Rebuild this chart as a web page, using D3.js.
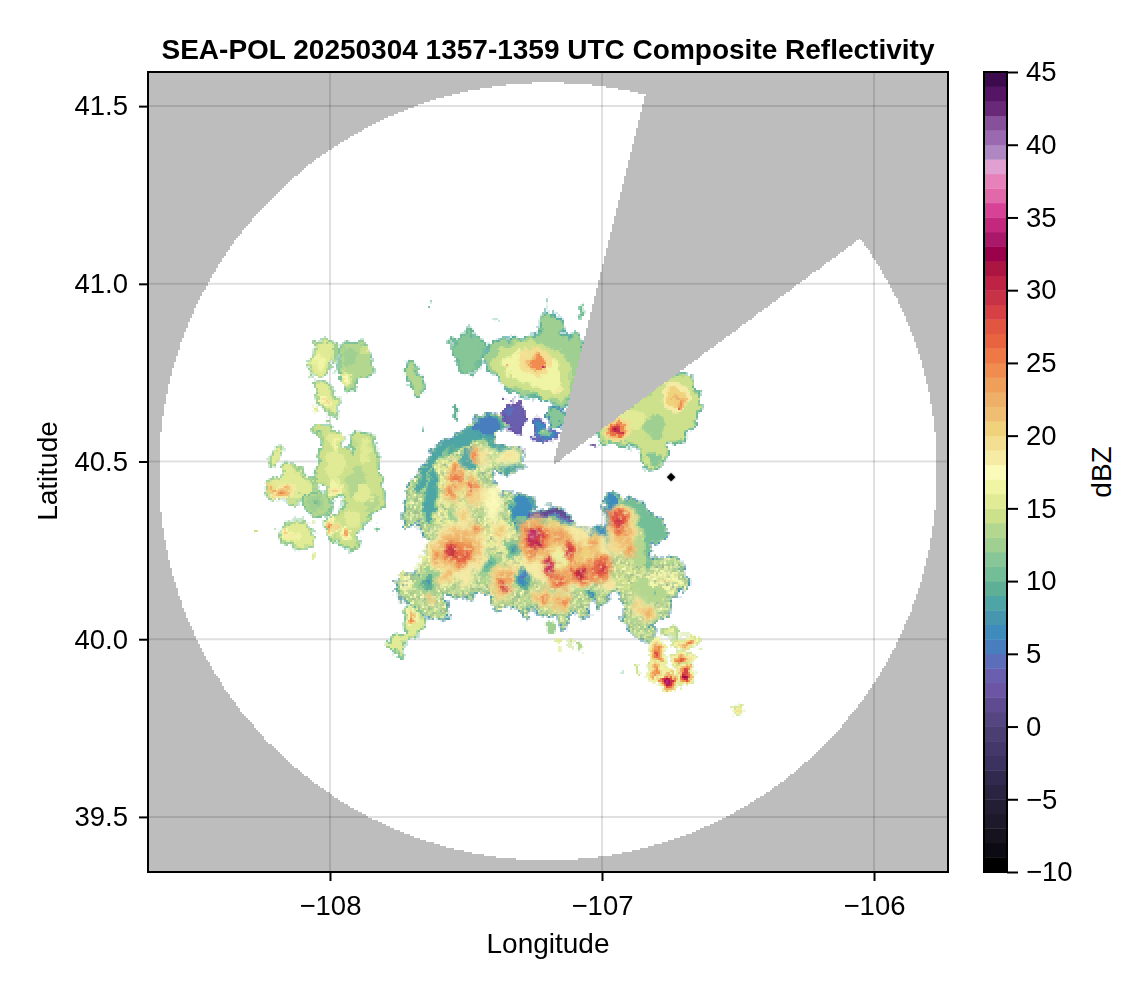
<!DOCTYPE html>
<html><head><meta charset="utf-8">
<script src="https://cdn.jsdelivr.net/npm/d3@7/dist/d3.min.js"></script>
<style>
html,body{margin:0;padding:0;background:#fff}
text{font-family:"Liberation Sans",Arial,sans-serif;fill:#000}
</style></head><body>
<svg width="0" height="0" style="position:absolute">
<defs>
<filter id="rough" x="0" y="0" width="100%" height="100%" color-interpolation-filters="sRGB">
<feTurbulence type="fractalNoise" baseFrequency="0.17" numOctaves="3" seed="4" result="n"/>
<feDisplacementMap in="SourceGraphic" in2="n" scale="7" xChannelSelector="R" yChannelSelector="G"/>
</filter>
<filter id="speckle" x="0" y="0" width="100%" height="100%" color-interpolation-filters="sRGB">
<feTurbulence type="fractalNoise" baseFrequency="0.17" numOctaves="3" seed="4" result="n"/>
<feDisplacementMap in="SourceGraphic" in2="n" scale="7" xChannelSelector="R" yChannelSelector="G" result="d"/>
<feTurbulence type="fractalNoise" baseFrequency="0.6" numOctaves="2" seed="9"/>
<feColorMatrix type="matrix" values="0 0 0 0 .98  0 0 0 0 .98  0 0 0 0 .72  3.2 0 0 0 -1.5" result="s"/>
<feComposite in="s" in2="d" operator="in" result="sp"/>
<feTurbulence type="fractalNoise" baseFrequency="0.45" numOctaves="2" seed="21"/>
<feColorMatrix type="matrix" values="0 0 0 0 .60  0 0 0 0 .72  0 0 0 0 .56  3 0 0 0 -1.3" result="g"/>
<feComposite in="g" in2="d" operator="in" result="gp"/>
<feMerge><feMergeNode in="d"/><feMergeNode in="gp"/><feMergeNode in="sp"/></feMerge>
</filter>
<filter id="mottle" x="0" y="0" width="100%" height="100%" color-interpolation-filters="sRGB">
<feGaussianBlur in="SourceGraphic" stdDeviation="1.1" result="b"/>
<feTurbulence type="fractalNoise" baseFrequency="0.17" numOctaves="3" seed="4" result="n"/>
<feDisplacementMap in="b" in2="n" scale="7" xChannelSelector="R" yChannelSelector="G" result="d"/>
<feTurbulence type="fractalNoise" baseFrequency="0.5" numOctaves="2" seed="13"/>
<feColorMatrix type="matrix" values="0 0 0 0 .96  0 0 0 0 .90  0 0 0 0 .66  2.0 0 0 0 -.95" result="s"/>
<feComposite in="s" in2="d" operator="in" result="sp"/>
<feMerge><feMergeNode in="d"/><feMergeNode in="sp"/></feMerge>
</filter>
</defs></svg>
<div id="chart"></div>
<script>
// ---------- axes ----------
const lonDomain = [-108.669, -105.728];
const latDomain = [39.345, 41.596];
const lonTicks = [-108, -107, -106];
const latTicks = [39.5, 40, 40.5, 41, 41.5];
const dbzTicks = [-10, -5, 0, 5, 10, 15, 20, 25, 30, 35, 40, 45];
const dbzDomain = [-10, 45];
const titleText = "SEA-POL 20250304 1357-1359 UTC Composite Reflectivity";
const xLabelText = "Longitude", yLabelText = "Latitude", barLabelText = "dBZ";

// one colour per 1 dBZ band, -10 to 45
const bandColors = ["#000000","#0c0a12","#16121e","#1e192a","#241e34","#2a2441","#322a4e","#3c325f","#443769","#4b3e73",
"#554682","#5f4b91","#6c55a5","#6a5faf","#5c6eb9","#487dbe","#3e8cbe","#4696af","#4ea5a5","#5faf96",
"#73be96","#87c696","#a0d091","#b4d78f","#cde18c","#e1eb96","#f0f5a5","#fafab9","#f5eba5","#f3de91",
"#f0d27d","#f0be73","#eeaf69","#eea05a","#f08c50","#ee7846","#e86441","#e15541","#d74146","#c83246",
"#be2346","#ac1441","#9b004b","#aa1969","#c3287d","#d74196","#e169aa","#e682b9","#e1a0d2","#af87c3",
"#9b69af","#87509b","#692878","#551464","#3d0a4e"];

// ---------- radar coverage ----------
const radarCenter = [-107.1985, 40.472];
const radarRange = [1.43, 1.094];            // degrees lon, lat
const blockApex = [-107.18, 40.49];
const blockEdgeNorth = [-106.842, 41.527];
const blockEdgeEast = [-106.059, 41.124];
const siteMarker = [-106.746, 40.456];

// ---------- echoes: [dBZ, rim dBZ, [[lon,lat],...]] ----------
const mainOutline = [13, 6, [[-107.73,40.355],[-107.72,40.37],[-107.69,40.45],[-107.65,40.485],[-107.61,40.54],[-107.55,40.56],[-107.51,40.58],[-107.46,40.61],[-107.45,40.625],[-107.40,40.63],[-107.36,40.61],[-107.36,40.595],[-107.40,40.585],[-107.40,40.55],[-107.34,40.545],[-107.30,40.51],[-107.31,40.48],[-107.36,40.47],[-107.40,40.475],[-107.40,40.43],[-107.40,40.40],[-107.33,40.41],[-107.36,40.365],[-107.31,40.405],[-107.25,40.38],[-107.265,40.355],[-107.155,40.365],[-107.105,40.33],[-107.08,40.31],[-107.02,40.31],[-106.98,40.33],[-106.98,40.405],[-106.93,40.40],[-106.86,40.385],[-106.83,40.355],[-106.77,40.325],[-106.78,40.29],[-106.825,40.27],[-106.825,40.215],[-106.78,40.23],[-106.74,40.22],[-106.705,40.20],[-106.695,40.145],[-106.74,40.125],[-106.76,40.08],[-106.81,40.045],[-106.835,40.045],[-106.805,40.005],[-106.825,39.99],[-106.87,40.005],[-106.92,40.06],[-106.915,40.13],[-106.945,40.145],[-107.0,40.10],[-107.03,40.12],[-107.07,40.06],[-107.12,40.075],[-107.145,40.035],[-107.165,40.075],[-107.215,40.07],[-107.265,40.09],[-107.275,40.06],[-107.29,40.08],[-107.275,40.14],[-107.30,40.08],[-107.33,40.095],[-107.385,40.085],[-107.41,40.125],[-107.46,40.13],[-107.51,40.12],[-107.585,40.12],[-107.57,40.075],[-107.595,40.06],[-107.66,40.075],[-107.73,40.12],[-107.755,40.145],[-107.735,40.18],[-107.68,40.18],[-107.66,40.22],[-107.62,40.28],[-107.66,40.30],[-107.66,40.335],[-107.72,40.32]]];

const mainBands = [
 [8, 11, [[-107.62,40.54],[-107.55,40.56],[-107.51,40.58],[-107.46,40.61],[-107.40,40.63],[-107.36,40.595],[-107.40,40.585],[-107.40,40.55],[-107.34,40.545],[-107.30,40.51],[-107.31,40.48],[-107.36,40.47],[-107.37,40.495],[-107.39,40.53],[-107.44,40.57],[-107.50,40.55],[-107.57,40.535],[-107.62,40.49],[-107.65,40.44],[-107.67,40.42],[-107.66,40.485]]],
 [6, 10, [[-107.31,40.405],[-107.25,40.38],[-107.265,40.355],[-107.155,40.365],[-107.105,40.33],[-107.08,40.31],[-107.02,40.31],[-106.98,40.33],[-106.98,40.29],[-107.045,40.30],[-107.12,40.325],[-107.19,40.345],[-107.265,40.335],[-107.31,40.31],[-107.33,40.365]]],
 [1, 3, [[-107.265,40.355],[-107.155,40.365],[-107.11,40.335],[-107.165,40.352],[-107.23,40.348]]],
 [6, 10, [[-106.98,40.405],[-106.95,40.40],[-106.965,40.335],[-106.97,40.265],[-107.01,40.28],[-107.015,40.31],[-106.98,40.33]]],
 [10, 13, [[-106.93,40.40],[-106.86,40.385],[-106.83,40.355],[-106.77,40.325],[-106.78,40.29],[-106.825,40.27],[-106.825,40.215],[-106.84,40.21],[-106.84,40.30],[-106.88,40.36],[-106.935,40.385]]],
 [8, 12, [[-107.625,40.475],[-107.61,40.47],[-107.615,40.405],[-107.63,40.335],[-107.65,40.335],[-107.645,40.405]]]
];

// ---------- cells: [lon, lat, edge dBZ, peak dBZ, half-width lon, half-height lat] ----------
const mainCellsLow = [
 [-107.566,40.42,15,17,.075,.11],[-107.49,40.46,15,17,.04,.05],[-107.60,40.20,15,16,.08,.06],[-107.40,40.28,15,17,.08,.07],[-107.30,40.22,15,16,.05,.05],[-106.90,40.18,14,16,.07,.05],
 [-106.775,40.165,16,19,.067,.037],[-107.725,40.16,15,19,.03,.03]
];
const mainCellsTeal = [
 [-107.42,40.60,5,3,.045,.025],[-107.42,40.215,12,8,.05,.034],[-107.64,40.16,12,7,.045,.04],[-107.29,40.175,9,4,.024,.034],[-107.32,40.25,11,7,.04,.03],[-107.29,40.305,10,5,.03,.045],[-107.55,40.355,12,9,.024,.024],[-106.97,40.27,10,6,.024,.034],[-107.045,40.125,10,5,.016,.015],[-106.81,40.125,13,10,.055,.024],[-107.49,40.505,8,5,.026,.034],[-106.85,40.14,13,12,.04,.03],[-106.87,40.25,13,12,.03,.05]
];
const mainCellsHigh = [
 [-107.13,40.23,18,23,.17,.09],[-107.53,40.25,18,23,.11,.075],[-107.40,40.38,17,19,.03,.05],[-107.35,40.51,16,20,.05,.024],
 [-107.535,40.455,19,27,.036,.055],[-107.55,40.415,19,26,.03,.04],[-107.48,40.43,19,28,.032,.032],[-107.455,40.40,19,24,.03,.03],[-107.465,40.52,19,27,.027,.022],[-107.43,40.51,17,21,.016,.03],[-107.33,40.525,18,20,.012,.015],
 [-107.53,40.255,21,26,.085,.06],[-107.55,40.245,25,31,.03,.025],[-107.505,40.23,25,29,.025,.02],[-107.605,40.23,20,27,.022,.027],[-107.46,40.31,19,27,.022,.022],[-107.505,40.35,18,22,.032,.032],[-107.375,40.30,18,23,.032,.032],[-107.575,40.18,19,23,.03,.022],[-107.50,40.165,18,20,.025,.02],[-107.44,40.40,18,21,.02,.02],[-107.33,40.19,18,20,.02,.02],
 [-107.365,40.16,19,25,.042,.055],[-107.355,40.145,25,34,.015,.015],[-107.34,40.18,21,25,.02,.025],[-107.215,40.115,19,26,.04,.028],[-107.145,40.105,19,26,.035,.032],[-107.245,40.12,19,23,.02,.02],
 [-107.17,40.29,20,25,.055,.045],[-107.12,40.25,22,30,.04,.04],[-107.075,40.185,22,31,.06,.034],[-107.005,40.20,22,30,.045,.045],[-107.155,40.165,21,28,.055,.022],[-107.035,40.27,20,25,.032,.032],[-106.98,40.15,18,21,.02,.02],
 [-107.245,40.285,21,29,.07,.06],[-107.255,40.295,28,37,.024,.024],[-107.24,40.265,28,35,.02,.018],[-107.155,40.225,16,13,.025,.03],[-107.19,40.205,24,36,.02,.035],
 [-106.925,40.307,19,24,.058,.075],[-106.935,40.33,24,30,.038,.038],[-106.905,40.255,21,25,.027,.032],
 [-106.835,40.075,18,24,.042,.022],[-106.87,40.10,18,22,.02,.03],[-107.625,40.115,18,24,.015,.02]
];

const southOutlines = [
 [15, 10, [[-107.695,40.09],[-107.66,40.045],[-107.695,40.005],[-107.735,39.98],[-107.735,39.955],[-107.77,39.97],[-107.76,40.015],[-107.72,40.015],[-107.725,40.07]]]
];
const southCells = [
 [-107.70,40.065,17,25,.022,.022],[-107.75,39.985,15,18,.015,.015],
 [-106.795,39.96,15,28,.036,.042],[-106.80,39.91,15,24,.036,.036],[-106.76,39.885,15,34,.042,.03],[-106.69,39.99,14,25,.058,.022],[-106.705,39.94,14,27,.042,.03],[-106.695,39.90,14,32,.036,.036],[-106.745,40.02,13,17,.034,.015],
 [-106.915,39.905,11,11,.007,.006],[-106.87,39.92,14,16,.007,.013],[-106.835,39.925,14,16,.007,.009],[-107.08,39.975,13,13,.01,.008],[-107.11,39.99,14,15,.011,.014],[-107.16,39.995,15,15,.008,.007],[-107.155,39.975,15,15,.005,.007],[-107.19,40.035,12,14,.018,.018],
 [-106.50,39.80,14,20,.024,.015]
];

const westOutlines = [
 [15, 11, [[-108.045,40.835],[-107.99,40.83],[-108.01,40.75],[-108.08,40.75],[-108.055,40.79]]],
 [13, 10, [[-107.965,40.80],[-107.945,40.83],[-107.90,40.835],[-107.86,40.805],[-107.855,40.75],[-107.90,40.73],[-107.925,40.695],[-107.955,40.73]]],
 [15, 11, [[-108.05,40.72],[-108.02,40.715],[-107.98,40.68],[-107.98,40.635],[-108.025,40.66],[-108.035,40.70]]],
 [14, 10, [[-108.055,40.59],[-108.0,40.595],[-107.965,40.565],[-107.92,40.51],[-107.91,40.575],[-107.865,40.58],[-107.83,40.53],[-107.835,40.485],[-107.805,40.41],[-107.815,40.365],[-107.88,40.33],[-107.895,40.30],[-107.91,40.26],[-107.95,40.26],[-108.005,40.31],[-108.005,40.335],[-107.935,40.38],[-107.94,40.40],[-107.975,40.40],[-108.01,40.37],[-108.005,40.435],[-108.06,40.44],[-108.04,40.485],[-108.03,40.525],[-108.025,40.57]]],
 [15, 11, [[-108.23,40.435],[-108.185,40.455],[-108.15,40.49],[-108.065,40.43],[-108.10,40.395],[-108.17,40.39],[-108.23,40.41]]],
 [13, 10, [[-108.10,40.40],[-108.01,40.405],[-108.0,40.365],[-108.055,40.355],[-108.09,40.375]]],
 [15, 11, [[-108.185,40.305],[-108.10,40.33],[-108.055,40.26],[-108.09,40.26],[-108.185,40.285]]],
 [15, 11, [[-108.21,40.525],[-108.175,40.54],[-108.195,40.495],[-108.21,40.495]]]
];
const westCells = [
 [-107.945,40.735,15,19,.02,.02],[-107.87,40.815,14,17,.015,.012],[-107.93,40.79,12,12,.025,.025],[-108.035,40.78,16,18,.02,.02],[-108.015,40.67,17,21,.013,.014],
 [-108.055,40.655,15,15,.01,.01],[-108.01,40.615,12,12,.008,.005],
 [-107.98,40.49,15,17,.035,.04],[-107.985,40.56,15,17,.03,.025],[-107.90,40.44,13,12,.04,.045],[-107.88,40.41,15,17,.03,.028],[-107.87,40.53,15,17,.016,.04],[-107.84,40.38,13,15,.02,.03],[-107.92,40.34,15,16,.03,.02],[-107.975,40.425,16,21,.022,.022],[-107.98,40.545,16,19,.01,.013],
 [-107.99,40.315,16,25,.016,.026],[-107.945,40.30,16,25,.027,.022],
 [-108.175,40.415,18,25,.05,.024],[-108.22,40.425,20,24,.016,.011],[-108.055,40.385,12,9,.03,.018],
 [-108.17,40.30,17,22,.015,.013],[-108.14,40.29,16,20,.022,.015],
 [-108.265,40.30,14,14,.008,.006],[-108.06,40.23,15,15,.008,.012],[-107.825,40.315,10,10,.008,.005],[-108.06,40.33,14,14,.006,.004]
];

const northOutlines = [
 [11, 9, [[-107.54,40.845],[-107.49,40.86],[-107.435,40.83],[-107.45,40.785],[-107.485,40.755],[-107.54,40.79]]],
 [12, 8, [[-107.425,40.79],[-107.40,40.83],[-107.365,40.845],[-107.33,40.84],[-107.255,40.85],[-107.23,40.86],[-107.21,40.92],[-107.165,40.90],[-107.135,40.845],[-107.09,40.85],[-107.075,40.83],[-107.125,40.665],[-107.18,40.66],[-107.215,40.685],[-107.30,40.685],[-107.365,40.73],[-107.41,40.755]]],
 [14, null, [[-107.40,40.785],[-107.33,40.83],[-107.205,40.83],[-107.12,40.78],[-107.14,40.675],[-107.265,40.695],[-107.36,40.72]]],
 [16, null, [[-107.37,40.775],[-107.32,40.805],[-107.215,40.805],[-107.15,40.76],[-107.165,40.70],[-107.265,40.715],[-107.33,40.74]]],
 [13, 9, [[-107.705,40.78],[-107.66,40.72],[-107.65,40.695],[-107.675,40.685],[-107.71,40.735]]],
 [3, 2, [[-107.355,40.66],[-107.295,40.655],[-107.30,40.59],[-107.31,40.58],[-107.345,40.61]]],
 [6, 3, [[-107.245,40.61],[-107.17,40.575],[-107.185,40.56],[-107.24,40.575]]],
 [11, 5, [[-107.2,40.635],[-107.15,40.645],[-107.15,40.60],[-107.19,40.62]]],
 [14, 9, [[-107.015,40.575],[-106.70,40.745],[-106.66,40.71],[-106.645,40.65],[-106.675,40.60],[-106.715,40.56],[-106.76,40.55],[-106.775,40.50],[-106.835,40.48],[-106.855,40.505],[-106.85,40.53],[-106.91,40.55],[-106.98,40.555]]]
];
const northCells = [
 [-107.49,40.82,11,13,.035,.035],[-107.245,40.78,19,24,.062,.04],[-107.24,40.775,24,26,.03,.02],[-107.215,40.76,28,38,.005,.005],[-107.345,40.765,18,30,.004,.006],[-107.165,40.70,18,20,.01,.012],
 [-107.2,40.945,10,10,.003,.012],[-107.075,40.925,10,10,.012,.02],[-107.635,40.945,10,10,.006,.008],[-107.395,40.905,9,9,.005,.004],
 [-107.535,40.64,9,9,.008,.018],[-107.66,40.59,9,9,.006,.008],[-107.34,40.645,4,6,.02,.015],[-107.21,40.585,11,14,.025,.012],[-107.29,40.53,-1,-1,.008,.006],[-107.03,40.55,2,2,.01,.005],
 [-106.90,40.62,15,17,.06,.03],[-106.805,40.595,12,12,.04,.035],[-106.73,40.68,18,22,.055,.045],[-106.705,40.665,21,26,.017,.017],[-106.715,40.655,26,31,.004,.004],
 [-106.945,40.59,19,25,.055,.035],[-106.945,40.59,25,31,.032,.02],[-106.925,40.585,31,37,.006,.006],[-106.81,40.51,11,9,.03,.015]
];

// ---------- layout ----------
const W = 1146, H = 990;
const plot = {l:148, r:948, t:72, b:872};
const bar = {l:984, r:1007, t:72, b:872};
const cell = 2;

const x = d3.scaleLinear().domain(lonDomain).range([plot.l, plot.r]);
const y = d3.scaleLinear().domain(latDomain).range([plot.b, plot.t]);
const color = d3.scaleQuantize().domain(dbzDomain).range(bandColors);
const yBar = d3.scaleLinear().domain(dbzDomain).range([bar.b, bar.t]);

const svg = d3.select("#chart").append("svg").attr("width", W).attr("height", H)
  .style("display","block").style("background","#fff");

// grid
const gridG = svg.append("g").attr("stroke","#000").attr("stroke-opacity",.12).attr("stroke-width",2);
gridG.selectAll("line.gx").data(lonTicks).join("line").attr("x1",d=>x(d)).attr("x2",d=>x(d)).attr("y1",plot.t).attr("y2",plot.b);
gridG.selectAll("line.gy").data(latTicks).join("line").attr("y1",d=>y(d)).attr("y2",d=>y(d)).attr("x1",plot.l).attr("x2",plot.r);

// radar coverage polygon (snapped to the 2 px data grid)
const cx0 = x(radarCenter[0]), cy0 = y(radarCenter[1]);
const rx = x(radarCenter[0]+radarRange[0])-cx0, ry = y(radarCenter[1]-radarRange[1])-cy0;
const A = [x(blockEdgeNorth[0]), y(blockEdgeNorth[1])], B = [x(blockEdgeEast[0]), y(blockEdgeEast[1])], P = [x(blockApex[0]), y(blockApex[1])];
const ang = p => Math.atan2((p[1]-cy0)/ry,(p[0]-cx0)/rx);
let t0 = ang(B), t1 = ang(A); if (t1 < t0) t1 += 2*Math.PI;
const raw = [];
d3.range(0,1601).forEach(i=>{const t=t0+(t1-t0)*i/1600; raw.push([cx0+rx*Math.cos(t),cy0+ry*Math.sin(t)]);});
d3.range(0,401).forEach(i=>{const f=i/400; raw.push([A[0]+(P[0]-A[0])*f,A[1]+(P[1]-A[1])*f]);});
d3.range(0,401).forEach(i=>{const f=i/400; raw.push([P[0]+(B[0]-P[0])*f,P[1]+(B[1]-P[1])*f]);});
const snap = (v,o)=>o+cell*Math.round((v-o)/cell);
const region = [];
raw.forEach(p=>{
  const q=[snap(p[0],plot.l),snap(p[1],plot.t)], last=region[region.length-1];
  if(!last){region.push(q);return;}
  if(last[0]===q[0]&&last[1]===q[1])return;
  if(last[0]!==q[0]&&last[1]!==q[1])region.push([q[0],last[1]]);
  region.push(q);
});
const regionPath = "M"+region.map(p=>p.join(",")).join("L")+"Z";
svg.append("path")
  .attr("d",`M${plot.l},${plot.t}H${plot.r}V${plot.b}H${plot.l}Z`+regionPath)
  .attr("fill","#000").attr("fill-opacity",.26).attr("fill-rule","evenodd").attr("shape-rendering","crispEdges");

// echoes rendered on the 400x400 data grid
const n = (plot.r-plot.l)/cell;
const cxS = d3.scaleLinear().domain(lonDomain).range([0,n]);
const cyS = d3.scaleLinear().domain(latDomain).range([n,0]);
function newLayer(){const c=document.createElement("canvas");c.width=n;c.height=n;return c;}
const blobLine = ctx => d3.line().x(d=>cxS(d[0])).y(d=>cyS(d[1])).curve(d3.curveCatmullRomClosed.alpha(.5)).context(ctx);
function drawOutlines(ctx,list){
  const line=blobLine(ctx);
  list.forEach(([v,rim,pts])=>{
    ctx.beginPath();line(pts);
    if(rim!==null){
      ctx.lineJoin="round";
      ctx.strokeStyle=color(rim);ctx.lineWidth=2.6;ctx.stroke();
      ctx.strokeStyle=color((rim+v)/2);ctx.lineWidth=1.3;ctx.stroke();
    }
    ctx.fillStyle=color(v);ctx.fill();
  });
}
function drawCells(ctx,list){
  list.forEach(([lon,lat,e,p,hw,hh])=>{
    const rings=Math.max(1,Math.round(Math.abs(p-e)/1.5));
    const px=cxS(lon),py=cyS(lat),wx=cxS(lon+hw)-px,wy=cyS(lat-hh)-py;
    for(let i=0;i<rings;i++){
      const f=rings===1?0:i/(rings-1), r=1-.8*f;
      ctx.fillStyle=color(e+(p-e)*f);
      ctx.beginPath();ctx.ellipse(px,py,wx*r,wy*r,0,0,2*Math.PI);ctx.fill();
    }
  });
}
const lowLayer=newLayer(), lowCtx=lowLayer.getContext("2d");
drawOutlines(lowCtx,[mainOutline]);
drawCells(lowCtx,mainCellsLow);

const bandLayer=newLayer(), bandCtx=bandLayer.getContext("2d");
bandCtx.beginPath();blobLine(bandCtx)(mainOutline[2]);bandCtx.clip();
drawOutlines(bandCtx,mainBands);
drawCells(bandCtx,mainCellsTeal);

const coreLayer=newLayer(), coreCtx=coreLayer.getContext("2d");
drawCells(coreCtx,mainCellsHigh);

const otherLayer=newLayer(), otherCtx=otherLayer.getContext("2d");
drawOutlines(otherCtx,southOutlines);
drawCells(otherCtx,southCells);
drawOutlines(otherCtx,westOutlines);
drawCells(otherCtx,westCells);
drawOutlines(otherCtx,northOutlines);
drawCells(otherCtx,northCells);

const echoCanvas=newLayer(), ec=echoCanvas.getContext("2d");
ec.imageSmoothingEnabled=false;
ec.beginPath();
region.forEach((p,i)=>{const a=(p[0]-plot.l)/cell,b=(p[1]-plot.t)/cell; i?ec.lineTo(a,b):ec.moveTo(a,b);});
ec.closePath();ec.clip();
ec.filter="url(#speckle)";ec.drawImage(lowLayer,0,0);
ec.filter="url(#rough)";ec.drawImage(bandLayer,0,0);
ec.filter="url(#mottle)";ec.drawImage(coreLayer,0,0);
ec.filter="url(#rough)";ec.drawImage(otherLayer,0,0);
ec.filter="none";

const fo=svg.append("foreignObject").attr("x",plot.l).attr("y",plot.t).attr("width",plot.r-plot.l).attr("height",plot.b-plot.t);
fo.node().appendChild(echoCanvas);
d3.select(echoCanvas).style("width",(plot.r-plot.l)+"px").style("height",(plot.b-plot.t)+"px")
  .style("display","block").style("image-rendering","pixelated");

// site marker
svg.append("path").attr("d",d3.symbol().type(d3.symbolSquare).size(40)())
  .attr("transform",`translate(${x(siteMarker[0])},${y(siteMarker[1])}) rotate(45)`).attr("fill","#000");

// axes
const minus = s => String(s).replace("-","\u2212");
const xAxis = d3.axisBottom(x).tickValues(lonTicks).tickFormat(minus).tickSize(9).tickPadding(14);
const yAxis = d3.axisLeft(y).tickValues(latTicks).tickFormat(d=>d3.format(".1f")(d)).tickSize(9).tickPadding(11);
const bAxis = d3.axisRight(yBar).tickValues(dbzTicks).tickFormat(minus).tickSize(11).tickPadding(8);
function styleAxis(g){
  g.select(".domain").remove();
  g.selectAll(".tick line").attr("stroke","#000").attr("stroke-width",2);
  g.selectAll(".tick text").attr("font-size",27.5).attr("font-family",'"Liberation Sans",Arial,sans-serif').attr("fill","#000");
}
svg.append("g").attr("transform",`translate(0,${plot.b})`).call(xAxis).call(styleAxis);
svg.append("g").attr("transform",`translate(${plot.l},0)`).call(yAxis).call(styleAxis);
svg.append("rect").attr("x",plot.l).attr("y",plot.t).attr("width",plot.r-plot.l).attr("height",plot.b-plot.t)
  .attr("fill","none").attr("stroke","#000").attr("stroke-width",2);

// colour bar
svg.append("g").selectAll("rect").data(bandColors).join("rect")
  .attr("x",bar.l).attr("width",bar.r-bar.l)
  .attr("y",(d,i)=>yBar(dbzDomain[0]+i+1))
  .attr("height",(d,i)=>yBar(dbzDomain[0]+i)-yBar(dbzDomain[0]+i+1)+.4)
  .attr("fill",d=>d);
svg.append("rect").attr("x",bar.l).attr("y",bar.t).attr("width",bar.r-bar.l).attr("height",bar.b-bar.t)
  .attr("fill","none").attr("stroke","#000").attr("stroke-width",2);
svg.append("g").attr("transform",`translate(${bar.r},0)`).call(bAxis).call(styleAxis);

// text
svg.append("text").attr("x",(plot.l+plot.r)/2).attr("y",59).attr("text-anchor","middle")
  .attr("font-size",28).attr("font-weight","bold").text(titleText);
svg.append("text").attr("x",548).attr("y",953).attr("text-anchor","middle").attr("font-size",28).text(xLabelText);
svg.append("text").attr("transform","translate(57,471) rotate(-90)").attr("text-anchor","middle").attr("font-size",28).text(yLabelText);
svg.append("text").attr("transform","translate(1111,472) rotate(-90)").attr("text-anchor","middle").attr("font-size",28).text(barLabelText);
</script>
</body></html>
